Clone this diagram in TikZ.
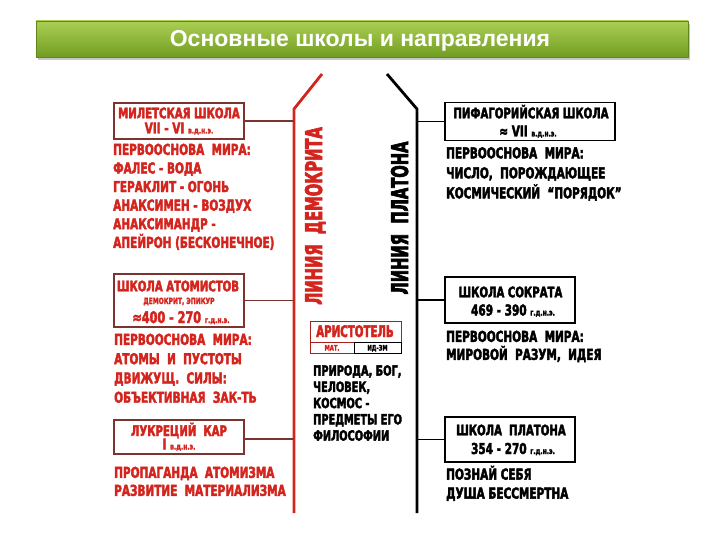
\documentclass[tikz,border=0pt]{standalone}
\usepackage{fontspec}
\setmainfont{DejaVu Sans}
\newfontfamily\impact{DejaVu Sans Bold}[FakeStretch=0.7, FakeBold=2.6]
\newfontfamily\impactnarrow{DejaVu Sans Bold}[FakeStretch=0.64, FakeBold=2.8]
\newfontfamily\titlefont{Liberation Sans Bold}

\definecolor{demred}{RGB}{212,36,30}
\definecolor{boxred}{RGB}{125,52,48}
\definecolor{bartop}{RGB}{172,206,84}
\definecolor{barbot}{RGB}{112,158,34}

\newcommand{\hdfont}{\impact\fontsize{14.5}{14.5}\selectfont}
\newcommand{\datefont}{\impact\fontsize{15}{15}\selectfont}
\newcommand{\smfont}{\impact\fontsize{8.5}{8.5}\selectfont}
\newcommand{\linefont}{\impactnarrow\fontsize{23}{23}\selectfont}

\tikzset{
  redtxt/.style={text=demred, inner sep=0pt, anchor=base},
  blacktxt/.style={text=black, inner sep=0pt, anchor=base},
  redbody/.style={text=demred, inner sep=0pt, anchor=north west, align=left,
    font=\impact\fontsize{15}{19}\selectfont},
  blackbody/.style={text=black, inner sep=0pt, anchor=north west, align=left,
    font=\impact\fontsize{15}{19}\selectfont},
  redbox/.style={draw=boxred, line width=1.2pt, inner sep=0pt},
  blackbox/.style={draw=black, line width=1.2pt, inner sep=0pt},
}

\begin{document}
\begin{tikzpicture}[x=1pt, y=-1pt]
\useasboundingbox (0,0) rectangle (720,540);

% Draw the title bar
\fill[black!22] (38,24) rectangle (690,60);
\node[top color=bartop, bottom color=barbot, draw=barbot!85!black, line width=0.5pt,
  minimum width=652pt, minimum height=36pt, inner sep=0pt] (titlebar) at (362,39) {};
\node[text=white, inner sep=0pt, anchor=base, font=\titlefont\fontsize{23}{23}\selectfont]
  (title) at (360,47) {Основные школы и направления};

% Draw the two lines
\coordinate (demtop) at (322,74);
\coordinate (demkink) at (294,109);
\coordinate (dembot) at (294,513);
\draw[demred, line width=2.8pt] (demtop) -- (demkink) -- (dembot);
\coordinate (platop) at (387,74);
\coordinate (plakink) at (417,109);
\coordinate (plabot) at (417,513);
\draw[black, line width=2.8pt] (platop) -- (plakink) -- (plabot);
\node[redtxt, rotate=90, font=\linefont] (demlabel) at (322,216) {ЛИНИЯ~ ДЕМОКРИТА};
\node[blacktxt, rotate=90, font=\linefont] (plalabel) at (408,218) {ЛИНИЯ~ ПЛАТОНА};

% Draw the left boxes
\node[redbox, minimum width=130pt, minimum height=36pt] (milbox) at (179,121) {};
\node[redtxt, font=\hdfont] (miltitle) at (179,118.3) {МИЛЕТСКАЯ ШКОЛА};
\node[redtxt] (mildate) at (179,133.5) {\datefont VII - VI \smfont в.д.н.э.};
\node[redbody, font=\impact\fontsize{15}{18.6}\selectfont] (milbody) at (113,143.5)
  {ПЕРВООСНОВА~ МИРА:\\ФАЛЕС - ВОДА\\ГЕРАКЛИТ - ОГОНЬ\\АНАКСИМЕН - ВОЗДУХ\\АНАКСИМАНДР -\\АПЕЙРОН (БЕСКОНЕЧНОЕ)};

\node[redbox, minimum width=130pt, minimum height=53pt] (atombox) at (179,300.5) {};
\node[redtxt, font=\hdfont] (atomtitle) at (178,291.3) {ШКОЛА АТОМИСТОВ};
\node[redtxt, font=\smfont] (atomnames) at (179,304) {ДЕМОКРИТ, ЭПИКУР};
\node[redtxt] (atomdate) at (181,323) {\impact\fontsize{16}{16}\selectfont ≈400 - 270 \smfont г.д.н.э.};
\node[redbody, font=\impact\fontsize{15}{19.3}\selectfont] (atombody) at (114,333.5)
  {ПЕРВООСНОВА~ МИРА:\\АТОМЫ~ И~ ПУСТОТЫ\\ДВИЖУЩ.~ СИЛЫ:\\ОБЪЕКТИВНАЯ~ ЗАК-ТЬ};

\node[redbox, minimum width=130pt, minimum height=34pt] (lucbox) at (179,437) {};
\node[redtxt, font=\hdfont] (luctitle) at (179,436) {ЛУКРЕЦИЙ~ КАР};
\node[redtxt] (lucdate) at (179,449.5) {\datefont I \smfont в.д.н.э.};
\node[redbody, font=\impact\fontsize{15}{18}\selectfont] (lucbody) at (114,466.5)
  {ПРОПАГАНДА~ АТОМИЗМА\\РАЗВИТИЕ~ МАТЕРИАЛИЗМА};

\draw[boxred, line width=1.2pt] (milbox.east) -- (milbox.east -| dembot);
\draw[boxred, line width=1.2pt] (atombox.east) -- (atombox.east -| dembot);
\draw[boxred, line width=1.2pt] ([yshift=-2pt]lucbox.east) -- ([yshift=-2pt]lucbox.east -| dembot);

% Draw Aristotle
\node[draw=demred!80!black, line width=1pt, minimum width=91pt, minimum height=32pt, inner sep=0pt]
  (arisbox) at (355.5,337) {};
\coordinate (arismid) at (354,342);
\draw[demred!80!black, line width=1pt] (arismid -| arisbox.west) -- (arismid -| arisbox.east);
\draw[demred!80!black, line width=1pt] (arismid) -- (arismid |- arisbox.south);
\draw[black, line width=1pt] (arismid) rectangle (arisbox.south east);
\node[redtxt, font=\impactnarrow\fontsize{16}{16}\selectfont] (aristitle) at (355,337) {АРИСТОТЕЛЬ};
\node[redtxt, font=\impact\fontsize{7.5}{7.5}\selectfont] (arismat) at (332,350.5) {МАТ.};
\node[blacktxt, font=\impact\fontsize{7.5}{7.5}\selectfont] (arisid) at (377.5,350.5) {ИД-ЗМ};
\node[blackbody, font=\impact\fontsize{14}{16.25}\selectfont] (arisbody) at (313,365)
  {ПРИРОДА, БОГ,\\ЧЕЛОВЕК,\\КОСМОС -\\ПРЕДМЕТЫ ЕГО\\ФИЛОСОФИИ};

% Draw the right boxes
\node[blackbox, minimum width=170pt, minimum height=38.5pt] (pythbox) at (530,121.5) {};
\node[blacktxt, font=\hdfont] (pythtitle) at (531,118.3) {ПИФАГОРИЙСКАЯ ШКОЛА};
\node[blacktxt] (pythdate) at (528,136.5) {\datefont ≈ VII \smfont в.д.н.э.};
\node[blackbody, font=\impact\fontsize{15}{20}\selectfont] (pythbody) at (446,147)
  {ПЕРВООСНОВА~ МИРА:\\ЧИСЛО,~ ПОРОЖДАЮЩЕЕ\\КОСМИЧЕСКИЙ~ “ПОРЯДОК”};

\node[blackbox, minimum width=130pt, minimum height=46pt] (socrbox) at (510,300) {};
\node[blacktxt, font=\hdfont] (socrtitle) at (510.5,297.3) {ШКОЛА СОКРАТА};
\node[blacktxt] (socrdate) at (513,315.5) {\datefont 469 - 390 \smfont г.д.н.э.};
\node[blackbody, font=\impact\fontsize{15}{18}\selectfont] (socrbody) at (446,330.5)
  {ПЕРВООСНОВА~ МИРА:\\МИРОВОЙ~ РАЗУМ,~ ИДЕЯ};

\node[blackbox, minimum width=130pt, minimum height=45pt] (platbox) at (510,439.5) {};
\node[blacktxt, font=\hdfont] (plattitle) at (511,435.3) {ШКОЛА~ ПЛАТОНА};
\node[blacktxt] (platdate) at (513,454) {\datefont 354 - 270 \smfont г.д.н.э.};
\node[blackbody, font=\impact\fontsize{15}{19}\selectfont] (platbody) at (446,465.5)
  {ПОЗНАЙ СЕБЯ\\ДУША БЕССМЕРТНА};

\draw[black, line width=1.2pt] (pythbox.west) -- (pythbox.west -| plabot);
\draw[black, line width=1.2pt] (socrbox.west) -- (socrbox.west -| plabot);
\draw[black, line width=1.2pt] (platbox.west) -- (platbox.west -| plabot);
\end{tikzpicture}
\end{document}
